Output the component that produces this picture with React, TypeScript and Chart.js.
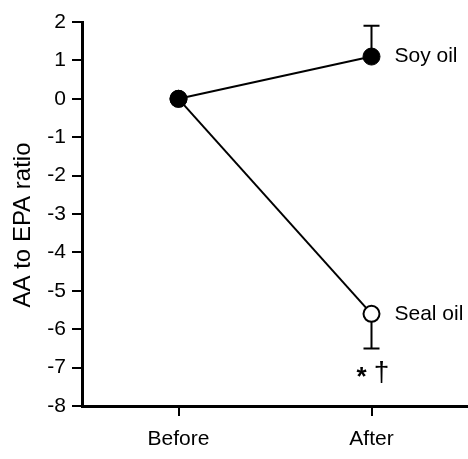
import React, { useEffect, useRef } from "react";
import { Chart, registerables } from "chart.js";

Chart.register(...registerables);

const categories = ["Before", "After"];
const soyValues = [0, 1.1];
const sealValues = [0, -5.6];
const soyErrUp = [0, 0.8];
const sealErrDown = [0, 0.9];
const yTicks = [2, 1, 0, -1, -2, -3, -4, -5, -6, -7, -8];
const soyLabel = "Soy oil";
const sealLabel = "Seal oil";
const sigMarks = ["*", "†"];
const yTitle = "AA to EPA ratio";

const FONT = '"Liberation Sans", Arial, sans-serif';

const overlayPlugin = {
  id: "overlay",
  beforeDatasetsDraw(chart: any) {
    const ctx = chart.ctx;
    const x = chart.scales.x;
    const y = chart.scales.y;
    ctx.save();
    ctx.strokeStyle = "#000";
    ctx.lineWidth = 2;
    const cap = 8;
    for (let i = 0; i < categories.length; i++) {
      const px = x.getPixelForValue(i);
      if (soyErrUp[i]) {
        const y0 = y.getPixelForValue(soyValues[i]);
        const y1 = y.getPixelForValue(soyValues[i] + soyErrUp[i]);
        ctx.beginPath();
        ctx.moveTo(px, y0);
        ctx.lineTo(px, y1);
        ctx.moveTo(px - cap, y1);
        ctx.lineTo(px + cap, y1);
        ctx.stroke();
      }
      if (sealErrDown[i]) {
        const y0 = y.getPixelForValue(sealValues[i]);
        const y1 = y.getPixelForValue(sealValues[i] - sealErrDown[i]);
        ctx.beginPath();
        ctx.moveTo(px, y0);
        ctx.lineTo(px, y1);
        ctx.moveTo(px - cap, y1);
        ctx.lineTo(px + cap, y1);
        ctx.stroke();
      }
    }
    ctx.restore();
  },
  afterDraw(chart: any) {
    const ctx = chart.ctx;
    const x = chart.scales.x;
    const y = chart.scales.y;
    const last = categories.length - 1;
    const px = x.getPixelForValue(last);
    ctx.save();
    ctx.fillStyle = "#000";
    ctx.font = `21px ${FONT}`;
    ctx.textAlign = "left";
    ctx.textBaseline = "middle";
    ctx.fillText(soyLabel, px + 23, y.getPixelForValue(soyValues[last]));
    ctx.fillText(sealLabel, px + 23, y.getPixelForValue(sealValues[last]));
    // significance marks
    const sy = y.getPixelForValue(sealValues[last] - sealErrDown[last]) + 25;
    ctx.textAlign = "center";
    ctx.font = `bold 26px ${FONT}`;
    ctx.fillText(sigMarks[0], px - 10, sy + 4);
    ctx.font = `28px ${FONT}`;
    ctx.fillText(sigMarks[1], px + 10, sy);
    // y title
    ctx.font = `24px ${FONT}`;
    ctx.translate(23, (chart.chartArea.top + chart.chartArea.bottom) / 2 + 11);
    ctx.rotate(-Math.PI / 2);
    ctx.textAlign = "center";
    ctx.textBaseline = "middle";
    ctx.fillText(yTitle, 0, 0);
    ctx.restore();
  },
};

export default function App() {
  const ref = useRef<HTMLCanvasElement>(null);
  useEffect(() => {
    if (!ref.current) return;
    const chart = new Chart(ref.current, {
      type: "line",
      data: {
        labels: categories,
        datasets: [
          {
            label: sealLabel,
            data: sealValues,
            borderColor: "#000",
            borderWidth: 2,
            pointRadius: 8,
            pointBorderWidth: 2,
            pointBackgroundColor: ["#000", "#fff"],
            pointBorderColor: "#000",
            fill: false,
          },
          {
            label: soyLabel,
            data: soyValues,
            borderColor: "#000",
            borderWidth: 2,
            pointRadius: 8.5,
            pointBorderWidth: 1,
            pointBackgroundColor: "#000",
            pointBorderColor: "#000",
            fill: false,
          },
        ],
      },
      options: {
        responsive: false,
        animation: false,
        layout: { autoPadding: false, padding: { top: 22, left: 0, right: 0, bottom: 0 } },
        plugins: { legend: { display: false }, tooltip: { enabled: false } },
        scales: {
          x: {
            type: "category",
            offset: true,
            grid: {
              display: true,
              drawOnChartArea: false,
              drawTicks: true,
              tickLength: 10,
              color: "#000",
              lineWidth: 2,
            },
            border: { display: true, color: "#000", width: 3 },
            ticks: { color: "#000", font: { size: 21, family: FONT }, padding: 11 },
            afterFit: (s: any) => {
              s.height = 53;
            },
          },
          y: {
            min: -8,
            max: 2,
            afterBuildTicks: (s: any) => {
              s.ticks = yTicks.map((v) => ({ value: v }));
            },
            grid: {
              display: true,
              drawOnChartArea: false,
              drawTicks: true,
              tickLength: 10,
              color: "#000",
              lineWidth: 2,
            },
            border: { display: true, color: "#000", width: 3 },
            ticks: { color: "#000", font: { size: 21, family: FONT }, padding: 6 },
            afterFit: (s: any) => {
              s.width = 82;
            },
          },
        },
      },
      plugins: [overlayPlugin],
    });
    return () => chart.destroy();
  }, []);
  return (
    <div style={{ position: "fixed", left: 0, top: 0, width: 468, height: 459, background: "#fff" }}>
      <canvas ref={ref} width={468} height={459} />
    </div>
  );
}
